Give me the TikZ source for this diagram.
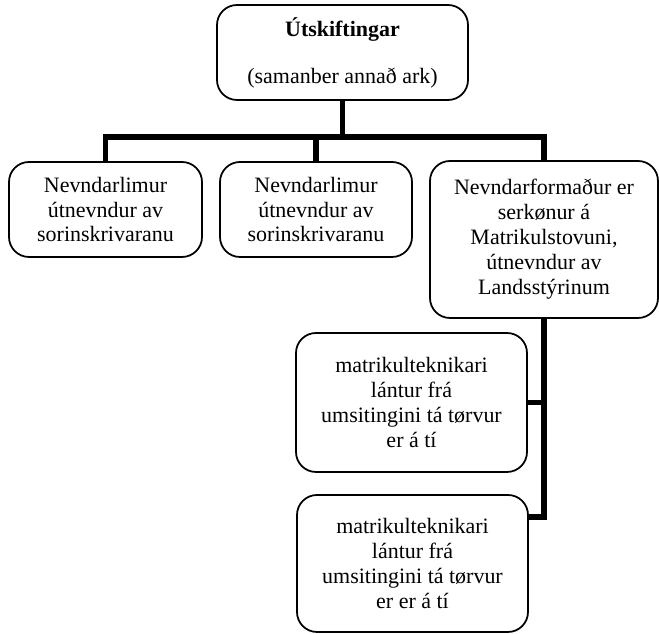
\documentclass[tikz,border=0pt]{standalone}
\usepackage{fontspec}
\setmainfont{Liberation Serif}
\begin{document}
\begin{tikzpicture}[
    box/.style={draw, line width=1pt, rounded corners=0.4cm, align=center,
      inner sep=0pt, font=\fontsize{12.5}{14.2}\selectfont},
    link/.style={line width=2.9pt}
  ]
    \useasboundingbox (0,0) rectangle (13.18,12.68);
    % boxes
    \node[box, minimum width=5.02cm, minimum height=1.9cm] (top) at (6.85,11.63)
      {\textbf{Útskiftingar}\\[12.5pt](samanber annað ark)};
    \node[box, minimum width=3.86cm, minimum height=1.9cm] (memA) at (2.11,8.49)
      {Nevndarlimur\\útnevndur av\\sorinskrivaranu};
    \node[box, minimum width=3.84cm, minimum height=1.9cm] (memB) at (6.32,8.49)
      {Nevndarlimur\\útnevndur av\\sorinskrivaranu};
    \node[box, minimum width=4.56cm, minimum height=3.14cm] (chair) at (10.88,7.89)
      {Nevndarformaður er\\serkønur á\\Matrikulstovuni,\\útnevndur av\\Landsstýrinum};
    \node[box, minimum width=4.62cm, minimum height=2.78cm] (techA) at (8.23,4.63)
      {matrikulteknikari\\lántur frá\\umsitingini tá tørvur\\er á tí};
    \node[box, minimum width=4.62cm, minimum height=2.74cm] (techB) at (8.25,1.41)
      {matrikulteknikari\\lántur frá\\umsitingini tá tørvur\\er er á tí};
    % draw connectors
    \coordinate (bar) at (6.85,9.94);
    \draw[link] (top.south) -- (bar);
    \draw[link] (memA.north) -- (memA.north |- bar) -| (chair.north);
    \draw[link] (memB.north) -- (memB.north |- bar);
    \draw[link] (chair.south) |- (techA.east);
    \draw[link] (chair.south) |- ([yshift=0.93cm]techB.east);
\end{tikzpicture}
\end{document}
